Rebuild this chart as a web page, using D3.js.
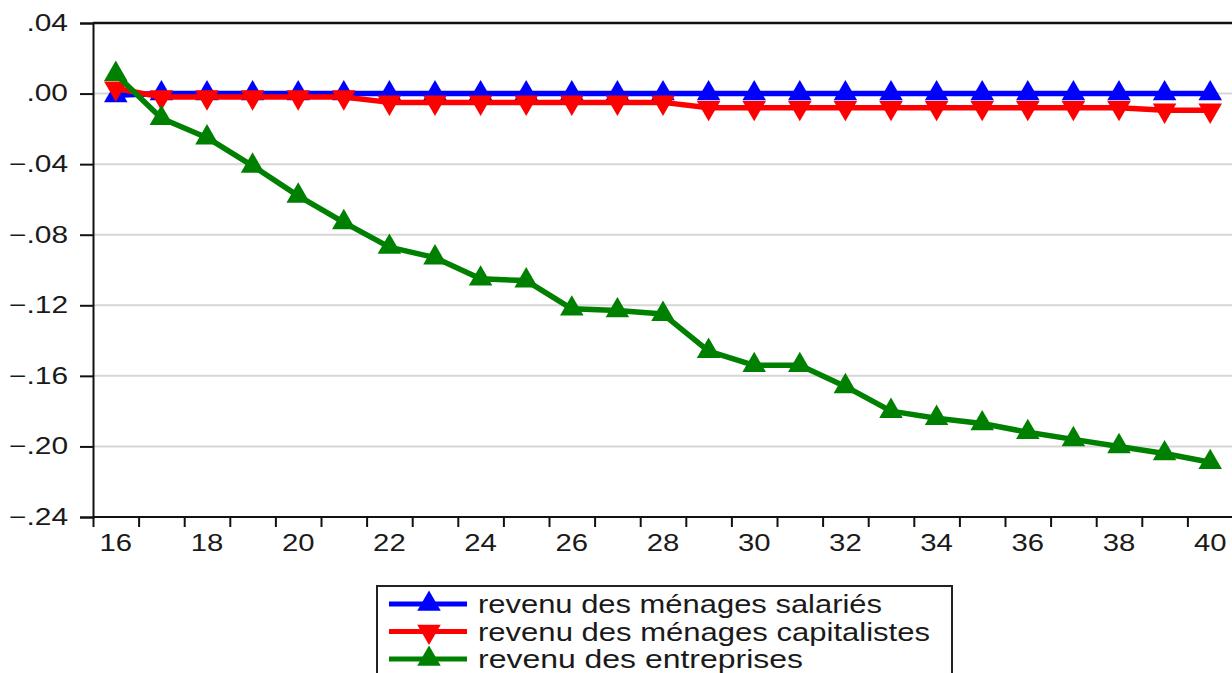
<!DOCTYPE html>
<html>
<head>
<meta charset="utf-8">
<script src="https://cdn.jsdelivr.net/npm/d3@7"></script>
<style>
  html, body { margin: 0; padding: 0; background: #fff; }
  svg { display: block; font-family: "Liberation Sans", Arial, sans-serif; }
</style>
</head>
<body>
<div id="chart"></div>
<script>
// years on the x axis (period labels)
var years = [16,17,18,19,20,21,22,23,24,25,26,27,28,29,30,31,32,33,34,35,36,37,38,39,40];
var xTickLabels = [16,18,20,22,24,26,28,30,32,34,36,38,40];
var yTickValues = [0.04,0.00,-0.04,-0.08,-0.12,-0.16,-0.20,-0.24];

// series values
var salaries = [-0.001,0,0,0,0,0,0,0,0,0,0,0,0,0,0,0,0,0,0,0,0,0,0,0,0];
var capitalistes = [0.003,-0.002,-0.002,-0.002,-0.002,-0.002,-0.005,-0.005,-0.005,-0.005,-0.005,-0.005,-0.005,
                    -0.008,-0.008,-0.008,-0.008,-0.008,-0.008,-0.008,-0.008,-0.008,-0.008,-0.0095,-0.0095];
var entreprises = [0.011,-0.014,-0.025,-0.041,-0.058,-0.073,-0.087,-0.093,-0.105,-0.106,-0.122,-0.123,-0.125,
                   -0.146,-0.154,-0.154,-0.166,-0.180,-0.184,-0.187,-0.192,-0.196,-0.200,-0.204,-0.209];

var seriesNames = ["revenu des ménages salariés","revenu des ménages capitalistes","revenu des entreprises"];
var seriesColors = ["#0000ff","#ff0000","#008000"];
var seriesMarkers = ["up","down","up"];
var seriesValues = [salaries, capitalistes, entreprises];

var W = 1232, H = 673;
var Margin = {top: 23, right: -1, bottom: 156, left: 93};

var x = d3.scaleLinear().domain([15.5, 40.5]).range([Margin.left, W - Margin.right]);
var y = d3.scaleLinear().domain([-0.24, 0.04]).range([H - Margin.bottom, Margin.top]);

var svg = d3.select("#chart").append("svg")
            .attr("width", W).attr("height", H);

// eviews text is wide: stretch glyphs horizontally
function widen(sel, f) {
  sel.each(function() {
    var n = this.getComputedTextLength();
    d3.select(this).attr("textLength", n * f).attr("lengthAdjust", "spacingAndGlyphs");
  });
}

// horizontal grid
svg.append("g").selectAll("line").data(yTickValues.slice(1, -1))
   .enter().append("line")
   .attr("x1", Margin.left).attr("x2", W)
   .attr("y1", d => y(d)).attr("y2", d => y(d))
   .attr("stroke", "#d6d6d6").attr("stroke-width", 2);

// y axis
var yAxis = svg.append("g").attr("transform", `translate(${Margin.left},0)`)
               .call(d3.axisLeft(y).tickValues(yTickValues).tickSize(13).tickPadding(12)
                      .tickFormat(d => d3.format(".2f")(d).replace("0.", ".")));
yAxis.select(".domain").attr("stroke", "#111").attr("stroke-width", 2);
yAxis.selectAll(".tick line").attr("stroke", "#111").attr("stroke-width", 2);
yAxis.selectAll(".tick text").attr("font-size", 23).attr("fill", "#1a1a1a").call(widen, 1.3);

// top frame
svg.append("line").attr("x1", Margin.left).attr("x2", W)
   .attr("y1", y(0.04)).attr("y2", y(0.04))
   .attr("stroke", "#111").attr("stroke-width", 2.5);

// x axis: ticks on period boundaries, labels on every second period
var xAxis = svg.append("g").attr("transform", `translate(0,${y(-0.24)})`)
               .call(d3.axisBottom(x).tickValues(years.map(d => d - 0.5)).tickSize(10).tickFormat(""));
xAxis.select(".domain").remove();
xAxis.selectAll(".tick line").attr("stroke", "#111").attr("stroke-width", 2);
svg.append("line").attr("x1", Margin.left).attr("x2", W)
   .attr("y1", y(-0.24)).attr("y2", y(-0.24))
   .attr("stroke", "#111").attr("stroke-width", 2);
svg.append("g").selectAll("text").data(xTickLabels)
   .enter().append("text")
   .attr("x", d => x(d)).attr("y", 551)
   .attr("text-anchor", "middle").attr("font-size", 24).attr("fill", "#1a1a1a")
   .text(d => d)
   .call(widen, 1.22);

var triUp = d3.symbol().type(d3.symbolTriangle).size(240);
function markerPath(kind) { return triUp(); }
function markerTransform(kind, cx, cy) {
  return `translate(${cx},${cy})` + (kind === "down" ? " rotate(180)" : "");
}

var line = d3.line().x((d, i) => x(years[i])).y(d => y(d));

var plot = svg.append("g");
seriesValues.forEach(function(vals, s) {
  var g = plot.append("g");
  g.append("path").datum(vals)
   .attr("d", line).attr("fill", "none")
   .attr("stroke", seriesColors[s]).attr("stroke-width", 5.5)
   .attr("stroke-linejoin", "round");
  g.selectAll("path.mk").data(vals).enter().append("path")
   .attr("class", "mk")
   .attr("d", markerPath(seriesMarkers[s]))
   .attr("transform", (d, i) => markerTransform(seriesMarkers[s], x(years[i]), y(d)))
   .attr("fill", seriesColors[s]);
});

// legend
var legend = svg.append("g");
legend.append("rect").attr("x", 377).attr("y", 586).attr("width", 575).attr("height", 120)
      .attr("fill", "#fff").attr("stroke", "#222").attr("stroke-width", 2);
var legendWidths = [404, 452, 325];
seriesNames.forEach(function(name, s) {
  var base = 613 + s * 27.5;
  legend.append("line").attr("x1", 389).attr("x2", 467)
        .attr("y1", base - 9).attr("y2", base - 9)
        .attr("stroke", seriesColors[s]).attr("stroke-width", 5);
  legend.append("path").attr("d", markerPath(seriesMarkers[s]))
        .attr("transform", markerTransform(seriesMarkers[s], 429, base - 9))
        .attr("fill", seriesColors[s]);
  legend.append("text").attr("x", 478).attr("y", base)
        .attr("font-size", 26).attr("fill", "#1a1a1a")
        .attr("textLength", legendWidths[s]).attr("lengthAdjust", "spacingAndGlyphs")
        .text(name);
});
</script>
</body>
</html>
